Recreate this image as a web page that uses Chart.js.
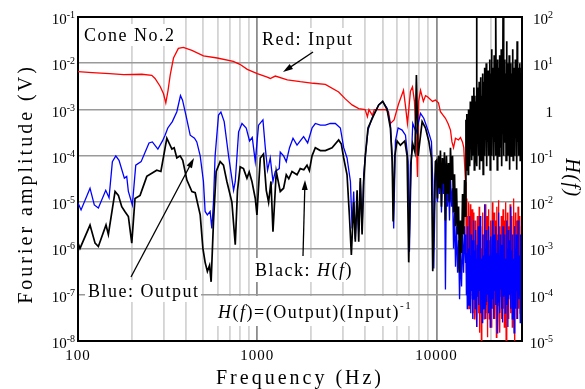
<!DOCTYPE html>
<html>
<head>
<meta charset="utf-8">
<script src="https://cdn.jsdelivr.net/npm/chart.js@4/dist/chart.umd.min.js"></script>
<style>
  html, body { margin: 0; padding: 0; background: #fff; }
</style>
</head>
<body>
<canvas id="chart" width="585" height="389"></canvas>
<script>
// Input (red), left axis, volts
const redFreq = [100, 120, 150, 180, 227, 258, 269, 287, 300, 309, 318, 327, 341, 363, 387, 432, 501, 598, 735, 800,
  880, 1000, 1137, 1182, 1261, 1472, 1738, 2056, 2399, 2846, 3100, 3381, 3683, 4000, 4118, 4200, 4387, 4500, 5188, 5400,
  5534, 5800, 6135, 6546, 6714, 6887, 7161, 7345, 7534, 7727, 7834, 7950, 8147, 8453, 8689, 8913, 9505, 9865, 10260, 10520,
  11220, 11600, 11970, 12200, 12450, 12760, 13270, 13610, 13960, 14200, 14520];
const redAmp = [6.6e-3, 6.3e-3, 6.0e-3, 5.7e-3, 5.8e-3, 5.5e-3, 4.7e-3, 3.2e-3, 2.2e-3, 1.4e-3, 2.6e-3, 5.6e-3, 1.3e-2, 2.1e-2, 2.2e-2, 1.9e-2, 1.45e-2, 1.3e-2, 1.1e-2, 9.5e-3,
  7.4e-3, 6.0e-3, 5.0e-3, 4.7e-3, 5.3e-3, 4.4e-3, 4.0e-3, 3.7e-3, 3.5e-3, 2.4e-3, 1.7e-3, 1.26e-3, 1.05e-3, 1.0e-3, 7e-4, 1.0e-3, 7.5e-4, 1.0e-3, 1.0e-3, 9e-4,
  5.0e-4, 6e-4, 1.3e-3, 2.6e-3, 1.2e-3, 5e-4, 2.5e-3, 3.1e-3, 1.5e-3, 2e-4, 3.5e-5, 1.5e-3, 2.6e-3, 1.5e-3, 2.0e-3, 1.9e-3, 1.5e-3, 1.6e-3, 1.4e-3, 9e-4,
  6.5e-4, 5e-4, 3.6e-4, 2e-4, 1.5e-4, 2.4e-4, 2.2e-4, 2.5e-4, 2e-4, 1.5e-4, 2.7e-5];

// Output (blue), left axis, volts
const blueFreq = [100, 104, 116.7, 123.3, 129.9, 142.8, 149, 155.5, 162.5, 169.4, 181.4, 187, 191, 201, 210, 225, 249, 260, 279, 296,
  306, 317, 336, 356, 373, 383, 400, 422.6, 446.6, 460, 480.6, 501, 512, 527, 546, 558, 570, 582, 608, 627,
  654, 692, 738, 754, 787, 822, 868, 906, 938, 975, 1017, 1076, 1109, 1142, 1182, 1224, 1261, 1327, 1344, 1403,
  1452, 1514, 1583, 1667, 1738, 1814, 1911, 2022, 2109, 2249, 2399, 2557, 2728, 2909, 3036, 3170, 3311, 3381, 3452, 3525,
  3607, 3683, 3758, 3845, 3926, 4009, 4150, 4365, 4760, 5012, 5303, 5534, 5662, 5770, 5902, 6109, 6430, 6714, 6950, 7063,
  7244, 7374, 7705, 8147, 8492, 8874, 9140, 9376, 9530, 9660, 9865,
  10000, 10130, 10260, 10390, 10520, 10660, 10800, 10940, 11080, 11220, 11370, 11520, 11670, 11820, 11970,
  12130, 12290, 12450, 12610, 12770, 12940, 13110, 13280, 13450, 13620, 13800, 13980, 14160, 14340, 14520];
const blueAmp = [9.6e-6, 6.8e-6, 2e-5, 8.7e-6, 7.5e-6, 1.8e-5, 1.24e-5, 7.5e-5, 1e-4, 8e-5, 3.3e-5, 3.6e-5, 1.7e-5, 8.7e-6, 6.3e-5, 7.5e-5, 1.9e-4, 2e-4, 1.4e-4, 2.1e-4,
  2.8e-4, 4e-4, 5.5e-4, 9e-4, 2e-3, 1.6e-3, 7.6e-4, 2.8e-4, 2.4e-4, 2e-4, 1e-4, 2.8e-5, 6.3e-6, 5.3e-6, 6.3e-6, 2.7e-6, 1e-5, 1e-4, 7.6e-4, 8.8e-4,
  5.5e-4, 1e-4, 1.8e-5, 2.8e-5, 3.3e-4, 5e-4, 4e-4, 2.1e-4, 2.5e-4, 7.5e-5, 4.6e-4, 6e-4, 1.5e-4, 4.9e-5, 9e-5, 2.8e-5, 4.6e-5, 5.3e-5, 1.2e-4, 1e-4,
  7.5e-5, 1.5e-4, 2.4e-4, 1.7e-4, 2.1e-4, 2.6e-4, 1.9e-4, 4e-4, 5e-4, 4.6e-4, 4.6e-4, 5e-4, 5e-4, 4e-4, 1.5e-4, 9e-5, 2.8e-5, 2.7e-6, 1.7e-5, 1.6e-6,
  1e-5, 2.3e-6, 2.8e-5, 2.5e-6, 3.9e-5, 1e-4, 3.6e-4, 6.5e-4, 1.26e-3, 1.5e-3, 1.07e-3, 4.6e-4, 1e-4, 2.7e-6, 2.1e-4, 4e-4, 3.6e-4, 2.8e-4, 7.5e-5, 8.5e-7,
  9e-5, 5e-4, 3.2e-4, 8.3e-4, 6.5e-4, 4e-4, 2.8e-4, 2e-4, 2.8e-5, 3.7e-7, 4e-5,
  6e-5, 1e-5, 8e-5, 1.5e-5, 9e-5, 6e-6, 6e-5, 1.5e-5, 7e-5, 1.3e-7, 5e-5, 8e-6, 3e-5, 4e-6, 4e-5,
  8e-6, 2e-5, 1e-6, 6e-6, 4e-7, 3e-6, 3e-7, 1.5e-6, 8e-8, 8e-7, 1.5e-7, 2e-6, 3e-7, 3e-6, 5e-7];

// H(f) (black), right axis
const blackFreq = [100, 102.6, 116.7, 124.5, 129.9, 143.3, 147.7, 161, 168, 175.4, 183, 191, 199.5, 208, 222, 242, 275, 290, 313, 334,
  344, 356, 371.5, 384, 405, 432, 450.6, 480.6, 497.5, 512, 527, 542, 553, 570, 590, 621, 648, 677, 722, 754,
  776, 803, 838, 876, 902, 934, 975, 996, 1040, 1084, 1123, 1157, 1193, 1224, 1277, 1344, 1403, 1452, 1500, 1563,
  1667, 1738, 1819, 1895, 1953, 2022, 2109, 2249, 2399, 2614, 2846, 2946, 3036, 3170, 3266, 3350, 3452, 3525, 3607, 3683,
  3758, 3845, 3926, 4009, 4150, 4467, 4760, 5012, 5303, 5534, 5662, 5730, 5851, 6030, 6293, 6653, 6857, 7000, 7178, 7374,
  7585, 7727, 7900, 8318, 8689, 9057, 9376, 9530, 9796, 9865,
  10000, 10130, 10260, 10390, 10520, 10660, 10800, 10940, 11080, 11220, 11370, 11520, 11670, 11820, 11970,
  12130, 12290, 12450, 12610, 12770, 12940, 13110, 13280, 13450, 13620, 13800, 13980, 14160, 14340, 14520];
const blackH = [1.3e-3, 1e-3, 3.2e-3, 1.3e-3, 1.1e-3, 3.2e-3, 2e-3, 1.7e-2, 1.4e-2, 8e-3, 6.2e-3, 4.9e-3, 1.3e-3, 1.2e-2, 1.4e-2, 3.6e-2, 4.9e-2, 4.6e-2, 0.24, 0.14,
  0.15, 9e-2, 0.1, 8e-2, 3e-2, 1.7e-2, 1.6e-2, 5.3e-3, 1e-3, 5e-4, 3.2e-4, 4.3e-4, 1.9e-4, 3.8e-3, 4.6e-2, 7.5e-2, 6.3e-2, 2.8e-2, 1e-2, 1.2e-3,
  1.8e-2, 5.8e-2, 5.3e-2, 3.3e-2, 4.5e-2, 2.8e-2, 1.2e-2, 5.3e-3, 9e-2, 0.11, 1.8e-2, 1e-2, 2.8e-2, 2.3e-3, 4.6e-2, 1.7e-2, 2e-2, 3.9e-2, 3.2e-2, 4.6e-2,
  3.9e-2, 5.3e-2, 5e-2, 6.3e-2, 4.8e-2, 0.1, 0.15, 0.13, 0.13, 0.15, 0.22, 0.18, 9e-2, 3.9e-2, 5.3e-3, 7.2e-4, 1e-2, 1.4e-3, 1.8e-2, 1.4e-3,
  3.3e-2, 2e-3, 2.8e-2, 0.1, 0.4, 0.76, 1.26, 1.5, 1.0, 0.4, 7.5e-2, 3.8e-3, 0.1, 0.21, 0.17, 0.21, 0.1, 5e-4, 6.3e-2, 0.18,
  0.12, 5.6, 0.1, 0.55, 0.4, 0.21, 9e-2, 3.2e-4, 2.8e-2, 7.5e-2,
  0.08, 0.012, 0.1, 0.02, 0.13, 0.008, 0.09, 0.025, 0.12, 0.004, 0.1, 0.015, 0.07, 0.01, 0.15,
  0.03, 0.1, 0.006, 0.04, 0.003, 0.02, 0.002, 0.008, 3e-4, 0.004, 8e-4, 0.015, 0.002, 0.03, 0.005];

// dense high-frequency part, shared frequencies
const noiseFreq = [14600, 14683, 14766, 14850, 14935, 15020, 15105, 15191, 15277, 15364,
  15451, 15539, 15628, 15717, 15806, 15896, 15986, 16077, 16168, 16260,
  16353, 16446, 16539, 16633, 16728, 16823, 16919, 17015, 17112, 17209,
  17307, 17405, 17504, 17604, 17704, 17805, 17906, 18008, 18110, 18213,
  18317, 18421, 18526, 18631, 18737, 18844, 18951, 19059, 19167, 19276,
  19386, 19496, 19607, 19719, 19831, 19944, 20057, 20171, 20286, 20401,
  20517, 20634, 20751, 20869, 20988, 21107, 21227, 21348, 21470, 21592,
  21715, 21838, 21962, 22087, 22213, 22339, 22466, 22594, 22722, 22852,
  22982, 23112, 23244, 23376, 23509, 23643, 23777, 23912, 24048, 24185,
  24322, 24461, 24600, 24740, 24880, 25022, 25164, 25307, 25451, 25596,
  25741, 25888, 26035, 26183, 26332, 26482, 26632, 26784, 26936, 27089,
  27243, 27398, 27554, 27711, 27868, 28027, 28186, 28346, 28507, 28669,
  28832, 28996, 29161, 29327, 29494, 29661, 29830, 30000];
const redNoise = [8e-6, 3e-7, 1.2e-5, 1e-7, 5e-6, 2e-7, 1e-5, 5e-8, 4e-6, 1.5e-7,
  9e-6, 8e-8, 3e-6, 2e-7, 7e-6, 4e-8, 2e-6, 1e-7, 6e-6, 3e-8,
  1.5e-6, 1.2e-7, 4e-6, 6e-8, 1e-6, 2e-8, 5e-6, 1e-7, 2e-6, 4e-8,
  8e-6, 1.5e-8, 1.5e-6, 8e-8, 3e-6, 1e-8, 1e-6, 5e-8, 6e-6, 2e-7,
  2e-6, 3e-8, 4e-6, 1e-7, 9e-6, 4e-8, 1.2e-6, 6e-8, 5e-6, 1.2e-8,
  2.5e-6, 9e-8, 7e-6, 3e-8, 1.5e-6, 1e-7, 4e-6, 2e-8, 1e-6, 8e-8,
  1e-5, 5e-8, 3e-6, 1e-7, 6e-6, 3e-8, 1.5e-6, 2e-7, 4e-6, 1.2e-8,
  8e-6, 6e-8, 2e-6, 1e-7, 1.1e-5, 4e-8, 3e-6, 1.5e-8, 1e-6, 9e-8,
  5e-6, 3e-8, 2e-6, 1e-7, 7e-6, 5e-8, 1.2e-6, 2e-8, 4e-6, 8e-8,
  1e-5, 1e-8, 2.5e-6, 6e-8, 6e-6, 1e-7, 1.5e-6, 3e-8, 3e-6, 1.5e-7,
  9e-6, 4e-8, 2e-6, 1e-7, 5e-6, 2e-8, 1e-6, 7e-8, 1.2e-5, 5e-8,
  3e-6, 1e-8, 6e-6, 8e-8, 1.5e-6, 3e-8, 4e-6, 1.2e-7, 8e-6, 5e-8,
  2e-6, 1e-7, 5e-6, 4e-8, 1e-6, 6e-8, 3e-6, 1e-7];
const blueNoise = [2e-6, 1e-7, 8e-7, 5e-8, 3e-6, 1.5e-7, 1e-6, 6e-8, 5e-6, 1e-7,
  7e-7, 4e-8, 2e-6, 1.2e-7, 6e-7, 3e-8, 1.5e-6, 8e-8, 4e-6, 1e-7,
  9e-7, 5e-8, 2.5e-6, 1.5e-7, 6e-7, 2e-8, 1.2e-6, 9e-8, 3e-6, 6e-8,
  8e-7, 1.2e-7, 5e-6, 4e-8, 1e-6, 8e-8, 6e-7, 2.5e-8, 2e-6, 1e-7,
  7e-7, 5e-8, 9e-6, 1.3e-7, 1e-6, 3e-8, 2.5e-6, 7e-8, 5e-7, 1e-7,
  1.5e-6, 4e-8, 3e-6, 9e-8, 7e-7, 2e-8, 1.8e-6, 1.1e-7, 6e-7, 5e-8,
  4e-6, 8e-8, 1e-6, 3e-8, 2e-6, 1.2e-7, 5e-7, 6e-8, 3e-6, 1e-7,
  8e-7, 1.5e-8, 1.5e-6, 7e-8, 6e-6, 1e-7, 7e-7, 4e-8, 2e-6, 1.3e-7,
  5e-7, 5e-8, 1.2e-6, 2.5e-8, 3e-6, 9e-8, 8e-7, 1e-7, 2e-6, 4e-8,
  6e-7, 1.2e-7, 4e-6, 6e-8, 1e-6, 2e-8, 2.5e-6, 8e-8, 7e-7, 1e-7,
  1.5e-6, 5e-8, 8e-6, 1.1e-7, 9e-7, 3e-8, 2e-6, 7e-8, 6e-7, 1.5e-8,
  3e-6, 1e-7, 1e-6, 5e-8, 2e-6, 1.2e-7, 5e-7, 3e-8, 4e-6, 8e-8,
  1.2e-6, 1e-7, 7e-7, 2.5e-8, 2e-6, 6e-8, 9e-7, 1e-7];
const blackNoise = [0.6, 0.05, 0.8, 0.1, 0.5, 0.04, 1.0, 0.15, 0.7, 0.06,
  1.5, 0.2, 1.2, 0.08, 2, 0.1, 1.5, 0.3, 3, 0.05,
  2, 0.2, 1.5, 0.1, 100, 0.06, 3, 0.2, 2.5, 0.1,
  4, 0.05, 3, 0.3, 5, 0.08, 2, 0.15, 6, 0.04,
  4, 0.2, 8, 0.1, 3, 0.3, 10, 0.06, 5, 0.2,
  7, 0.1, 4, 0.4, 12, 0.05, 6, 0.2, 20, 0.1,
  8, 0.3, 5, 0.08, 15, 0.2, 10, 0.1, 100, 0.3,
  6, 0.05, 12, 0.2, 8, 0.1, 15, 0.4, 5, 0.15,
  20, 0.06, 10, 0.3, 100, 0.1, 8, 0.2, 12, 0.5,
  6, 0.08, 30, 0.2, 10, 0.1, 7, 0.4, 15, 0.05,
  5, 0.2, 10, 0.1, 6, 0.3, 20, 0.08, 8, 0.2,
  5, 0.1, 12, 0.4, 6, 0.05, 30, 0.2, 8, 0.1,
  5, 0.3, 10, 0.08, 6, 0.2, 8, 0.3];

// axis ticks
const freqTicks = [100, 1000, 10000];
const freqGrid = [100, 200, 300, 400, 500, 600, 700, 800, 900, 1000, 2000, 3000, 4000, 5000, 6000, 7000, 8000, 9000,
  10000, 20000, 30000];
const leftExps = [-8, -7, -6, -5, -4, -3, -2, -1];
const rightExps = [-5, -4, -3, -2, -1, 0, 1, 2];

const SERIF = '"Liberation Serif", "Times New Roman", serif';

function toPoints(xs, ys) {
  return xs.map((x, i) => ({ x: x, y: ys[i] }));
}

function isDecade(v) {
  const l = Math.log10(v);
  return Math.abs(l - Math.round(l)) < 1e-6;
}

// "10" with a raised exponent, right aligned at xRight
function drawPower(c, exp, xRight, yBase) {
  const base = exp === 0 ? '1' : '10';
  const sup = exp === 0 ? '' : String(exp);
  c.font = '15px ' + SERIF;
  const wb = c.measureText(base).width;
  c.font = '10px ' + SERIF;
  const ws = sup ? c.measureText(sup).width : 0;
  const x0 = xRight - wb - ws;
  c.font = '15px ' + SERIF;
  c.fillText(base, x0, yBase);
  if (sup) {
    c.font = '10px ' + SERIF;
    c.fillText(sup, x0 + wb, yBase - 6);
  }
}

function drawRuns(c, x, y, parts, size) {
  parts.forEach(p => {
    c.font = (p.it ? 'italic ' : '') + (p.sz || size) + 'px ' + SERIF;
    c.fillText(p.t, x, y - (p.up || 0));
    x += c.measureText(p.t).width;
  });
}

function drawArrow(c, x1, y1, x2, y2) {
  const a = Math.atan2(y2 - y1, x2 - x1);
  const L = 10, W = 3;
  const cos = Math.cos(a), sin = Math.sin(a);
  c.beginPath();
  c.moveTo(x1, y1);
  c.lineTo(x2 - L * 0.7 * cos, y2 - L * 0.7 * sin);
  c.stroke();
  c.beginPath();
  c.moveTo(x2, y2);
  c.lineTo(x2 - L * cos + W * sin, y2 - L * sin - W * cos);
  c.lineTo(x2 - L * cos - W * sin, y2 - L * sin + W * cos);
  c.closePath();
  c.fill();
}

const decorations = {
  id: 'decorations',
  beforeDatasetsDraw(chart) {
    const c = chart.ctx;
    c.save();
    c.fillStyle = '#fff';
    // label backgrounds hide the grid
    c.fillRect(81, 24, 97, 22);
    c.fillRect(259, 28, 97, 22);
    c.fillRect(85, 280, 116, 22);
    c.fillRect(252, 258, 98, 24);
    c.fillRect(204, 296, 209, 30);
    c.restore();
  },
  afterDatasetsDraw(chart) {
    const c = chart.ctx;
    const a = chart.chartArea;
    c.save();
    c.strokeStyle = '#000';
    c.lineWidth = 2;
    c.beginPath();
    c.moveTo(a.left - 1, a.top);
    c.lineTo(a.right + 1, a.top);
    c.moveTo(a.right, a.top);
    c.lineTo(a.right, a.bottom);
    c.stroke();

    c.fillStyle = '#000';
    c.textAlign = 'left';
    c.textBaseline = 'alphabetic';

    // tick labels
    const ys = chart.scales.y, y2 = chart.scales.y2, xs = chart.scales.x;
    leftExps.forEach(e => drawPower(c, e, 75, ys.getPixelForValue(Math.pow(10, e)) + 7));
    rightExps.forEach(e => drawPower(c, e, 553, y2.getPixelForValue(Math.pow(10, e)) + 7));
    c.font = '15px ' + SERIF;
    c.letterSpacing = '1px';
    c.textAlign = 'center';
    freqTicks.forEach(f => c.fillText(String(f), xs.getPixelForValue(f), 360));

    // axis titles
    c.font = '20px ' + SERIF;
    c.letterSpacing = '3px';
    c.fillText('Frequency (Hz)', 300, 384);
    c.save();
    c.translate(32, 184);
    c.rotate(-Math.PI / 2);
    c.fillText('Fourier amplitude (V)', 0, 0);
    c.restore();
    c.save();
    c.translate(566, 178);
    c.rotate(Math.PI / 2);
    c.font = 'italic 20px ' + SERIF;
    c.letterSpacing = '1.5px';
    c.fillText('H(f)', 0, 0);
    c.restore();

    // annotations
    c.textAlign = 'left';
    c.letterSpacing = '1.5px';
    c.font = '18px ' + SERIF;
    c.fillText('Cone No.2', 84, 41);
    c.fillText('Red: Input', 262, 45);
    c.fillText('Blue: Output', 88, 297);
    drawRuns(c, 255, 276, [{ t: 'Black: ' }, { t: 'H', it: true }, { t: '(' }, { t: 'f', it: true }, { t: ')' }], 18);
    drawRuns(c, 218, 318, [{ t: 'H', it: true }, { t: '(' }, { t: 'f', it: true }, { t: ')=(Output)(Input)' },
      { t: '-1', sz: 11, up: 9 }], 18);

    c.lineWidth = 1.3;
    drawArrow(c, 313, 52, 283, 72);
    drawArrow(c, 131, 277, 194, 158);
    drawArrow(c, 303, 256, 305, 180);
    c.restore();
  }
};

new Chart(document.getElementById('chart'), {
  type: 'line',
  data: {
    datasets: [
      {
        label: 'Input',
        data: toPoints(redFreq.concat(noiseFreq), redAmp.concat(redNoise)),
        borderColor: '#ff0000',
        borderWidth: 1.3,
        yAxisID: 'y',
        order: 3
      },
      {
        label: 'Output',
        data: toPoints(blueFreq.concat(noiseFreq), blueAmp.concat(blueNoise)),
        borderColor: '#0000ff',
        borderWidth: 1.3,
        yAxisID: 'y',
        order: 2
      },
      {
        label: 'H(f)',
        data: toPoints(blackFreq.concat(noiseFreq), blackH.concat(blackNoise)),
        borderColor: '#000000',
        borderWidth: 1.7,
        yAxisID: 'y2',
        order: 1
      }
    ]
  },
  options: {
    responsive: false,
    animation: false,
    layout: { padding: { left: 78, right: 63, top: 17, bottom: 48 } },
    elements: { point: { radius: 0 }, line: { tension: 0 } },
    plugins: { legend: { display: false }, tooltip: { enabled: false } },
    scales: {
      x: {
        type: 'logarithmic',
        min: 100,
        max: 30000,
        afterBuildTicks: s => { s.ticks = freqGrid.map(v => ({ value: v })); },
        afterFit: s => { s.height = 0; },
        ticks: { display: false },
        grid: {
          color: ctx => (ctx.tick && isDecade(ctx.tick.value)) ? '#8c8c8c' : '#d4d4d4',
          lineWidth: 1.8,
          drawTicks: false
        },
        border: { color: '#000', width: 2 }
      },
      y: {
        type: 'logarithmic',
        position: 'left',
        min: 1e-8,
        max: 1e-1,
        afterBuildTicks: s => { s.ticks = leftExps.map(e => ({ value: Math.pow(10, e) })); },
        afterFit: s => { s.width = 0; },
        ticks: { display: false },
        grid: { color: '#9a9a9a', lineWidth: 1.6, drawTicks: false },
        border: { color: '#000', width: 2 }
      },
      y2: {
        type: 'logarithmic',
        position: 'right',
        min: 1e-5,
        max: 1e2,
        afterBuildTicks: s => { s.ticks = rightExps.map(e => ({ value: Math.pow(10, e) })); },
        afterFit: s => { s.width = 0; },
        ticks: { display: false },
        grid: { display: false, drawTicks: false },
        border: { color: '#000', width: 2 }
      }
    }
  },
  plugins: [decorations]
});
</script>
</body>
</html>
